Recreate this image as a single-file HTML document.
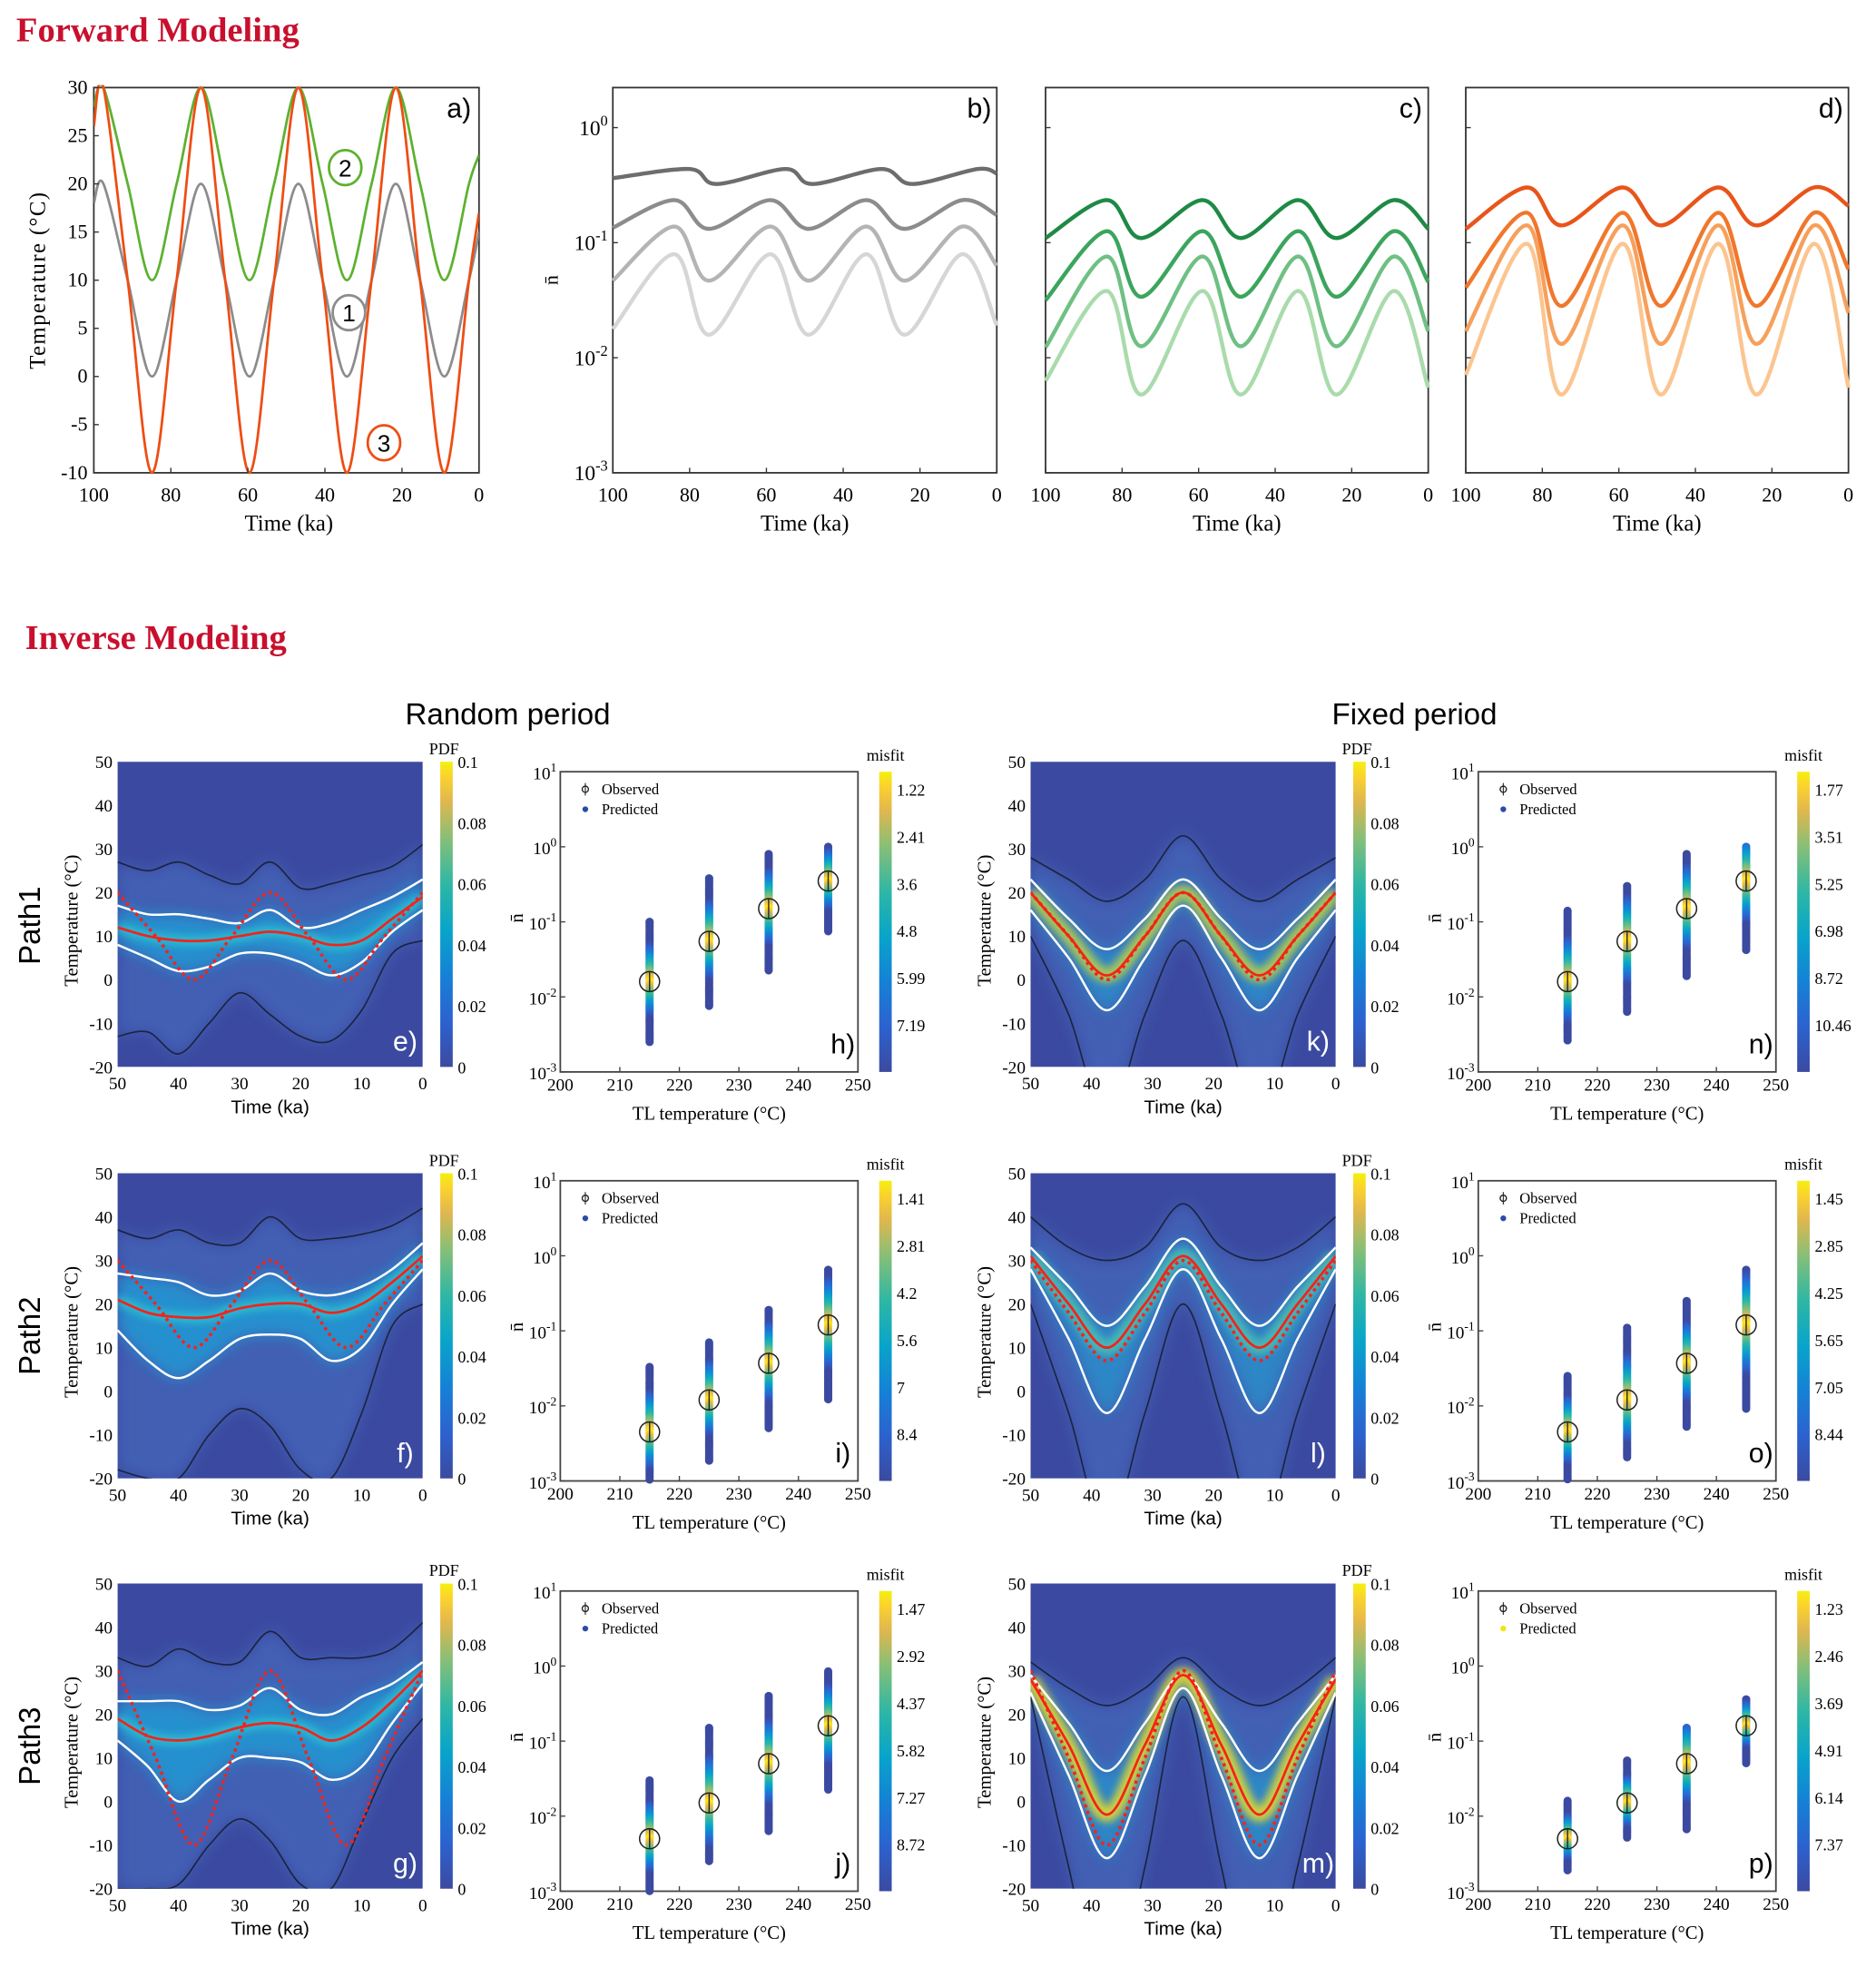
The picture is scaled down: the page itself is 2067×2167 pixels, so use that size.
<!DOCTYPE html>
<html><head><meta charset="utf-8">
<style>
html,body{margin:0;padding:0;background:#fff;}
svg{display:block;}
text{font-family:"Liberation Serif",serif;}
.sans{font-family:"Liberation Sans",sans-serif;}
</style></head>
<body>
<svg id="fig" xmlns="http://www.w3.org/2000/svg" width="2067" height="2167" viewBox="0 0 1500 1572.6">
<defs>
<linearGradient id="parulaV" x1="0" y1="1" x2="0" y2="0">
<stop offset="0" stop-color="#3b4aa0"/><stop offset="0.15" stop-color="#2c62cf"/><stop offset="0.3" stop-color="#1581d6"/><stop offset="0.45" stop-color="#08a4ca"/><stop offset="0.6" stop-color="#2eb7a4"/><stop offset="0.75" stop-color="#87bf77"/><stop offset="0.87" stop-color="#e0b74e"/><stop offset="0.95" stop-color="#fbd12f"/><stop offset="1" stop-color="#f4f00f"/>
</linearGradient>
<filter id="blur6" x="-20%" y="-20%" width="140%" height="140%"><feGaussianBlur stdDeviation="6"/></filter>
<filter id="blur3" x="-20%" y="-20%" width="140%" height="140%"><feGaussianBlur stdDeviation="3"/></filter>
</defs>
</svg>
<script>
// ---------- Forward modeling data ----------
const tA=[100,97.5,91.2,84.9,78.5,72.2,65.9,59.6,53.2,46.9,40.6,34.3,27.9,21.6,15.3,9,2.6,0];
const a1=[18,20,10,0,10,20,10,0,10,20,10,0,10,20,10,0,10,15];
const a2=[28,30,20,10,20,30,20,10,20,30,20,10,20,30,20,10,20,23];
const a3=[26,30,10,-10,10,30,10,-10,10,30,10,-10,10,30,10,-10,10,17];
const tN=[100,84,75,59,49,34,24,9,0];
const tNb=[100,80,73,55,48,30,22,5,0];
const b1=[-0.44,-0.36,-0.49,-0.36,-0.49,-0.36,-0.49,-0.36,-0.4];
const b2=[-0.87,-0.63,-0.88,-0.63,-0.88,-0.63,-0.88,-0.63,-0.76];
const b3=[-1.33,-0.86,-1.33,-0.86,-1.33,-0.86,-1.33,-0.86,-1.2];
const b4=[-1.75,-1.1,-1.8,-1.1,-1.8,-1.1,-1.8,-1.1,-1.72];
const c1=[-0.96,-0.63,-0.96,-0.63,-0.96,-0.63,-0.96,-0.63,-0.88];
const c2=[-1.5,-0.9,-1.47,-0.9,-1.47,-0.9,-1.47,-0.9,-1.34];
const c3=[-1.91,-1.12,-1.9,-1.12,-1.9,-1.12,-1.9,-1.12,-1.77];
const c4=[-2.2,-1.42,-2.32,-1.42,-2.32,-1.42,-2.32,-1.42,-2.26];
const d1=[-0.88,-0.52,-0.85,-0.52,-0.85,-0.52,-0.85,-0.52,-0.68];
const d2=[-1.39,-0.74,-1.55,-0.74,-1.55,-0.74,-1.55,-0.74,-1.23];
const d3=[-1.77,-0.85,-1.88,-0.85,-1.88,-0.85,-1.88,-0.85,-1.61];
const d4=[-2.15,-1.01,-2.32,-1.01,-2.32,-1.01,-2.32,-1.01,-2.26];
const xTicksA=[100,80,60,40,20,0];
const yTicksA=[30,25,20,15,10,5,0,-5,-10];
const logTicks=[0,-1,-2,-3];

// ---------- Inverse modeling data ----------
const tRand=[50,45,40,35,30,25,20,15,10,5,0];
const tFix=[50,43.75,37.5,31.25,25,18.75,12.5,6.25,0];
const e_bu=[27,25,27,24,22,27,21,22,24,26,31];
const e_wu=[17,15,15,14,13,16,12,13,16,19,23];
const e_md=[12,10,9,9,10,11,10,8,9,14,19];
const e_wl=[8,5,2,3,6,6,4,1,4,11,16];
const e_bl=[-13,-12,-17,-10,-3,-8,-13,-14,-7,6,9];
const e_tr=[20,10,0,10,20,10,0,10,20];
const f_bu=[37,35,37,34,34,40,35,35,36,38,42];
const f_wu=[27,26,25,22,23,27,23,22,24,28,34];
const f_md=[21,18,17,17,19,20,20,18,20,25,31];
const f_wl=[14,7,3,7,12,13,12,7,10,20,28];
const f_bl=[-18,-20,-20,-10,-4,-8,-18,-20,-5,15,20];
const f_tr=[30,20,10,20,30,20,10,20,30];
const g_bu=[33,31,35,32,32,39,33,33,33,35,41];
const g_wu=[23,23,23,21,22,26,21,20,24,27,32];
const g_md=[19,15,14,15,17,18,17,14,17,23,30];
const g_wl=[14,8,0,5,10,10,9,5,8,18,27];
const g_bl=[-20,-20,-19,-10,-4,-9,-19,-20,-5,10,19];
const g_tr=[30,10,-10,10,30,10,-10,10,30];
const k_bu=[28,23,18,23,33,23,18,23,28];
const k_wu=[23,14,7,14,23,14,7,14,23];
const k_md=[20,10,1,10,20,10,1,10,20];
const k_wl=[16,5,-7,5,17,5,-7,5,16];
const k_bl=[10,-8,-32,-8,9,-8,-32,-8,10];
const k_tr=[20,10,0,10,20,10,0,10,20];
const l_bu=[40,33,30,33,43,33,30,33,40];
const l_wu=[33,24,15,24,35,24,15,24,33];
const l_md=[31,20,10,20,31,20,10,20,31];
const l_wl=[28,12,-5,12,28,12,-5,12,28];
const l_bl=[20,-5,-32,-5,20,-5,-32,-5,20];
const l_tr=[30,18,7,18,30,18,7,18,30];
const m_bu=[32,26,22,26,33,26,22,26,33];
const m_wu=[29,18,7,18,29,18,7,18,29];
const m_md=[28,13,-3,13,29,13,-3,13,28];
const m_wl=[25,6,-13,6,26,6,-13,6,25];
const m_bl=[24,-15,-50,-15,24,-15,-50,-15,24];
const m_tr=[30,10,-10,10,30,10,-10,10,30];

const tlTemps=[215,225,235,245];
const h_obs=[0.016,0.055,0.15,0.35], h_lo=[0.0025,0.0075,0.022,0.075], h_hi=[0.1,0.38,0.8,1.0];
const i_obs=[0.0045,0.012,0.037,0.12], i_lo=[0.001,0.0018,0.005,0.012], i_hi=[0.033,0.07,0.19,0.65];
const j_obs=[0.005,0.015,0.05,0.16], j_lo=[0.001,0.0025,0.006,0.022], j_hi=[0.03,0.15,0.4,0.85];
const n_obs=[0.016,0.055,0.15,0.35], n_lo=[0.0025,0.006,0.018,0.04], n_hi=[0.14,0.3,0.8,1.0];
const o_obs=[0.0045,0.012,0.037,0.12], o_lo=[0.001,0.002,0.005,0.009], o_hi=[0.025,0.11,0.25,0.65];
const p_obs=[0.005,0.015,0.05,0.16], p_lo=[0.0018,0.005,0.0065,0.05], p_hi=[0.016,0.055,0.15,0.36];
const h_cb=["1.22","2.41","3.6","4.8","5.99","7.19"];
const i_cb=["1.41","2.81","4.2","5.6","7","8.4"];
const j_cb=["1.47","2.92","4.37","5.82","7.27","8.72"];
const n_cb=["1.77","3.51","5.25","6.98","8.72","10.46"];
const o_cb=["1.45","2.85","4.25","5.65","7.05","8.44"];
const p_cb=["1.23","2.46","3.69","4.91","6.14","7.37"];
const pdfTicks=["0.1","0.08","0.06","0.04","0.02","0"];
const heatXTicks=[50,40,30,20,10,0];
const heatYTicks=[50,40,30,20,10,0,-10,-20];
const tlTicks=[200,210,220,230,240,250];

// ---------- helpers ----------
const NS="http://www.w3.org/2000/svg";
const svg=document.getElementById('fig');
function P(name,tag,attrs,parent){
  const el=document.createElementNS(NS,tag);
  for(const k in attrs) el.setAttribute(k,attrs[k]);
  
  
  (parent||svg).appendChild(el);
  return el;
}
function T(name,x,y,s,size,extra,parent){
  const a=Object.assign({x:x,y:y,'font-size':size},extra||{});
  const el=P(name,'text',a,parent);
  el.textContent=s;
  return el;
}
function pow10(name,x,y,e,size,anchor){
  const el=P(name,'text',{x:x,y:y,'font-size':size,'text-anchor':anchor||'end'});
  el.textContent='10';
  const ts=document.createElementNS(NS,'tspan');
  ts.setAttribute('dy',-size*0.45);ts.setAttribute('font-size',size*0.7);
  ts.textContent=String(e);
  el.appendChild(ts);
  return el;
}
function smooth(pts){
  let d='M'+pts[0][0].toFixed(2)+','+pts[0][1].toFixed(2);
  for(let i=0;i<pts.length-1;i++){
    const p0=pts[i-1]||pts[i],p1=pts[i],p2=pts[i+1],p3=pts[i+2]||pts[i+1];
    const c1x=p1[0]+(p2[0]-p0[0])/6,c1y=p1[1]+(p2[1]-p0[1])/6;
    const c2x=p2[0]-(p3[0]-p1[0])/6,c2y=p2[1]-(p3[1]-p1[1])/6;
    d+=' C'+c1x.toFixed(2)+','+c1y.toFixed(2)+' '+c2x.toFixed(2)+','+c2y.toFixed(2)+' '+p2[0].toFixed(2)+','+p2[1].toFixed(2);
  }
  return d;
}
function pts(ts,vs,sx,sy){return ts.map((t,i)=>[sx(t),sy(vs[i])]);}
const PAR=[[0,[59,74,160]],[0.15,[44,98,207]],[0.3,[21,129,214]],[0.45,[8,164,202]],[0.6,[46,183,164]],[0.75,[135,191,119]],[0.87,[224,183,78]],[0.95,[251,209,47]],[1,[244,240,15]]];
function parula(v){
  v=Math.max(0,Math.min(1,v));
  for(let i=0;i<PAR.length-1;i++){
    const [a,ca]=PAR[i],[b,cb]=PAR[i+1];
    if(v<=b){const f=(v-a)/(b-a);return 'rgb('+ca.map((c,j)=>Math.round(c+(cb[j]-c)*f)).join(',')+')';}
  }
  return 'rgb(244,240,15)';
}

// ---------- titles ----------
T('forward-modeling-title',13,33,'Forward Modeling',28,{fill:'#c8102e','font-weight':'bold'});
T('inverse-modeling-title',20,519,'Inverse Modeling',28,{fill:'#c8102e','font-weight':'bold'});
T('random-period-title',406,579,'Random period',24,{'text-anchor':'middle',class:'sans'});
T('fixed-period-title',1131,579,'Fixed period',24,{'text-anchor':'middle',class:'sans'});

// ---------- Panel a ----------
(function(){
  const L=75,R=383,Tp=70,B=378;
  const sx=t=>L+(100-t)/100*(R-L), sy=v=>B-(v+10)/40*(B-Tp);
  const g=P('panel-a','g',{});
  P('panel-a-frame','rect',{x:L,y:Tp,width:R-L,height:B-Tp,fill:'#fff',stroke:'#333','stroke-width':1.3},g);
  const cp=P('panel-a-clip','clipPath',{id:'clipA'},g);
  P('panel-a-clip-rect','rect',{x:L,y:Tp-2,width:R-L,height:B-Tp+4},cp);
  P('curve-1-gray','path',{d:smooth(pts(tA,a1,sx,sy)),fill:'none',stroke:'#8c8c8c','stroke-width':2,'clip-path':'url(#clipA)'},g);
  P('curve-2-green','path',{d:smooth(pts(tA,a2,sx,sy)),fill:'none',stroke:'#5db12f','stroke-width':2,'clip-path':'url(#clipA)'},g);
  P('curve-3-orange','path',{d:smooth(pts(tA,a3,sx,sy)),fill:'none',stroke:'#ee4d14','stroke-width':2,'clip-path':'url(#clipA)'},g);
  xTicksA.forEach(t=>{T('panel-a-x-tick',sx(t),401,String(t),16,{'text-anchor':'middle'},g);
    P('panel-a-x-tickmark','line',{x1:sx(t),y1:B,x2:sx(t),y2:B-4,stroke:'#333'},g);});
  yTicksA.forEach(v=>{T('panel-a-y-tick',70,sy(v)+5,String(v),16,{'text-anchor':'end'},g);
    P('panel-a-y-tickmark','line',{x1:L,y1:sy(v),x2:L+4,y2:sy(v),stroke:'#333'},g);});
  T('panel-a-x-title',231,424,'Time (ka)',18,{'text-anchor':'middle'},g);
  T('panel-a-y-title',0,0,'Temperature (°C)',18,{'text-anchor':'middle','letter-spacing':'1',transform:'translate(36,224) rotate(-90)'},g);
  T('panel-a-label',367,94,'a)',22,{'text-anchor':'middle',class:'sans'},g);
  [['2',276,134,'#5db12f'],['1',279,250,'#8c8c8c'],['3',307,354,'#ee4d14']].forEach(c=>{
    P('curve-'+c[0]+'-marker-circle','ellipse',{cx:c[1],cy:c[2],rx:13,ry:14,fill:'#fff',stroke:c[3],'stroke-width':2},g);
    T('curve-'+c[0]+'-marker-label',c[1],c[2]+7,c[0],19,{'text-anchor':'middle',class:'sans'},g);
  });
})();

// ---------- Panels b,c,d ----------
function logPanel(id,L,R,series,colors,showY,times){
  const Tp=70,B=378,top=0.348;
  const sx=t=>L+(100-t)/100*(R-L), sy=v=>Tp+(top-v)*92;
  const g=P('panel-'+id,'g',{});
  P('panel-'+id+'-frame','rect',{x:L,y:Tp,width:R-L,height:B-Tp,fill:'#fff',stroke:'#333','stroke-width':1.3},g);
  series.forEach((s,i)=>{
    P('panel-'+id+'-curve-'+(i+1),'path',{d:smooth(pts(times[i],s,sx,sy)),fill:'none',stroke:colors[i],'stroke-width':3.2},g);
  });
  xTicksA.forEach(t=>{T('panel-'+id+'-x-tick',sx(t),401,String(t),16,{'text-anchor':'middle'},g);
    P('panel-'+id+'-x-tickmark','line',{x1:sx(t),y1:B,x2:sx(t),y2:B-4,stroke:'#333'},g);});
  logTicks.forEach(e=>{P('panel-'+id+'-y-tickmark','line',{x1:L,y1:sy(e),x2:L+4,y2:sy(e),stroke:'#333'},g);
    if(showY) pow10('panel-'+id+'-y-tick',L-4,sy(e)+6,e,17);});
  T('panel-'+id+'-x-title',(L+R)/2,424,'Time (ka)',18,{'text-anchor':'middle'},g);
  T('panel-'+id+'-label',R-14,94,id+')',22,{'text-anchor':'middle',class:'sans'},g);
  if(showY) T('panel-'+id+'-y-title',0,0,'n\u0304',16,{'text-anchor':'middle',transform:'translate(446,224) rotate(-90)'},g);
}
logPanel('b',490,797,[b1,b2,b3,b4],['#6d6d6d','#8c8c8c','#b4b4b4','#d6d6d6'],true,[tNb,tN,tN,tN]);
logPanel('c',836,1142,[c1,c2,c3,c4],['#1e8a45','#3ca55d','#6fc083','#a9dbab'],false,[tN,tN,tN,tN]);
logPanel('d',1172,1478,[d1,d2,d3,d4],['#e8551a','#f0772c','#f6a05c','#fcc590'],false,[tN,tN,tN,tN]);

// ---------- Heatmaps ----------
let clipN=0;
function heat(id,L,Tp,times,bu,wu,md,wl,bl,tr,fixed,coreColor){
  const W=244,H=244,R=L+W,B=Tp+H;
  const sx=t=>L+(50-t)/50*W, sy=v=>Tp+(50-v)/70*H;
  const g=P('panel-'+id,'g',{});
  const cid='clipH'+(clipN++);
  const cp=P('panel-'+id+'-clip','clipPath',{id:cid},g);
  P('panel-'+id+'-clip-rect','rect',{x:L,y:Tp,width:W,height:H},cp);
  const gi=P('panel-'+id+'-plot','g',{'clip-path':'url(#'+cid+')'},g);
  P('panel-'+id+'-background','rect',{x:L,y:Tp,width:W,height:H,fill:'#3b4aa0'},gi);
  const pu=pts(times,bu,sx,sy),pl=pts(times,bl,sx,sy);
  const outer=smooth(pu)+' L'+smooth(pl.slice().reverse()).slice(1)+' Z';
  P('panel-'+id+'-pdf-outer','path',{d:outer,fill:'#4a72c4',opacity:0.55,filter:'url(#blur6)'},gi);
  const wu2=pts(times,wu,sx,sy),wl2=pts(times,wl,sx,sy);
  const inner=smooth(wu2)+' L'+smooth(wl2.slice().reverse()).slice(1)+' Z';
  P('panel-'+id+'-pdf-inner','path',{d:inner,fill:fixed?'#1da6d6':'#1fa0d8',opacity:fixed?0.55:0.75,filter:'url(#blur6)'},gi);
  P('panel-'+id+'-pdf-core','path',{d:smooth(pts(times,md,sx,sy)),fill:'none',stroke:coreColor,'stroke-width':fixed?12:8,opacity:0.8,filter:'url(#blur3)'},gi);
  P('panel-'+id+'-upper-95','path',{d:smooth(pu),fill:'none',stroke:'#1b2440','stroke-width':1.2},gi);
  P('panel-'+id+'-lower-95','path',{d:smooth(pl),fill:'none',stroke:'#1b2440','stroke-width':1.2},gi);
  P('panel-'+id+'-upper-68','path',{d:smooth(wu2),fill:'none',stroke:'#fff','stroke-width':1.8},gi);
  P('panel-'+id+'-lower-68','path',{d:smooth(wl2),fill:'none',stroke:'#fff','stroke-width':1.8},gi);
  P('panel-'+id+'-median','path',{d:smooth(pts(times,md,sx,sy)),fill:'none',stroke:'#f2231c','stroke-width':2},gi);
  P('panel-'+id+'-true-path','path',{d:smooth(pts(tFix,tr,sx,sy)),fill:'none',stroke:'#f2231c','stroke-width':2.6,'stroke-dasharray':'2.5 3'},gi);
  heatXTicks.forEach(t=>T('panel-'+id+'-x-tick',sx(t),B+18,String(t),14,{'text-anchor':'middle'},g));
  heatYTicks.forEach(v=>T('panel-'+id+'-y-tick',L-4,sy(v)+5,String(v),14,{'text-anchor':'end'},g));
  T('panel-'+id+'-x-title',(L+R)/2,B+37,'Time (ka)',15,{'text-anchor':'middle',class:'sans'},g);
  T('panel-'+id+'-y-title',0,0,'Temperature (°C)',15,{'text-anchor':'middle',transform:'translate('+(L-32)+','+(Tp+H/2+5)+') rotate(-90)'},g);
  T('panel-'+id+'-label',R-14,B-13,id+')',22,{'text-anchor':'middle',class:'sans',fill:'#fff'},g);
  const cx=L+W+14;
  P('panel-'+id+'-colorbar','rect',{x:cx,y:Tp,width:10,height:H,fill:'url(#parulaV)'},g);
  T('panel-'+id+'-colorbar-title',cx+3,Tp-6,'PDF',13,{'text-anchor':'middle'},g);
  pdfTicks.forEach((s,i)=>T('panel-'+id+'-colorbar-tick',cx+14,Tp+5+i*H/5,s,13,{},g));
}
heat('e',94,609,tRand,e_bu,e_wu,e_md,e_wl,e_bl,e_tr,false,'#2fc7d0');
heat('f',94,938,tRand,f_bu,f_wu,f_md,f_wl,f_bl,f_tr,false,'#2fc7d0');
heat('g',94,1266,tRand,g_bu,g_wu,g_md,g_wl,g_bl,g_tr,false,'#2fc7d0');
heat('k',824,609,tFix,k_bu,k_wu,k_md,k_wl,k_bl,k_tr,true,'#c8d63a');
heat('l',824,938,tFix,l_bu,l_wu,l_md,l_wl,l_bl,l_tr,true,'#4fc5b0');
heat('m',824,1266,tFix,m_bu,m_wu,m_md,m_wl,m_bl,m_tr,true,'#f7e21a');
[['path1-label',740,'Path1'],['path2-label',1068,'Path2'],['path3-label',1396,'Path3']].forEach(p=>{
  T(p[0],0,0,p[2],24,{'text-anchor':'middle',class:'sans',transform:'translate(32,'+p[1]+') rotate(-90)'});
});

// ---------- Scatter panels ----------
function scatter(id,L,Tp,obs,lo,hi,cb,predYellow){
  const W=238,H=240,R=L+W,B=Tp+H;
  const sx=t=>L+(t-200)/50*W, sy=v=>Tp+(1-Math.log10(v))/4*H;
  const g=P('panel-'+id,'g',{});
  P('panel-'+id+'-frame','rect',{x:L,y:Tp,width:W,height:H,fill:'#fff',stroke:'#444','stroke-width':1.3},g);
  tlTemps.forEach((t,i)=>{
    const lo_l=Math.log10(lo[i]),hi_l=Math.log10(hi[i]),ob=Math.log10(obs[i]);
    const dmax=Math.max(hi_l-ob,ob-lo_l);
    const y0=sy(hi[i]),y1=sy(lo[i]);
    for(let y=y0;y<=y1+0.01;y+=1.5){
      const lv=1-(y-Tp)/H*4;
      const d=Math.abs(lv-ob)/dmax;
      P('panel-'+id+'-predicted-point','circle',{cx:sx(t),cy:y,r:3.3,fill:parula(1-1.6*d)},g);
    }
  });
  tlTemps.forEach((t,i)=>{
    const cy=sy(obs[i]);
    P('panel-'+id+'-observed-errorbar','line',{x1:sx(t),y1:cy-8,x2:sx(t),y2:cy+8,stroke:'#222','stroke-width':1},g);
    P('panel-'+id+'-observed-point','circle',{cx:sx(t),cy:cy,r:8,fill:'none',stroke:'#222','stroke-width':1.1},g);
  });
  tlTicks.forEach(t=>{T('panel-'+id+'-x-tick',sx(t),B+15,String(t),14,{'text-anchor':'middle'},g);
    P('panel-'+id+'-x-tickmark','line',{x1:sx(t),y1:B,x2:sx(t),y2:B-4,stroke:'#444'},g);});
  [1,0,-1,-2,-3].forEach(e=>{pow10('panel-'+id+'-y-tick',L-3,sy(Math.pow(10,e))+6,e,14);
    P('panel-'+id+'-y-tickmark','line',{x1:L,y1:sy(Math.pow(10,e)),x2:L+4,y2:sy(Math.pow(10,e)),stroke:'#444'},g);});
  T('panel-'+id+'-x-title',(L+R)/2,B+38,'TL temperature (°C)',15,{'text-anchor':'middle'},g);
  T('panel-'+id+'-y-title',0,0,'n\u0304',15,{'text-anchor':'middle',transform:'translate('+(L-30)+','+(Tp+H/2-3)+') rotate(-90)'},g);
  T('panel-'+id+'-label',R-12,B-15,id+')',22,{'text-anchor':'middle',class:'sans'},g);
  P('panel-'+id+'-legend-observed-marker','circle',{cx:L+20,cy:Tp+14,r:2.5,fill:'none',stroke:'#222'},g);
  P('panel-'+id+'-legend-observed-bar','line',{x1:L+20,y1:Tp+9,x2:L+20,y2:Tp+19,stroke:'#222','stroke-width':0.8},g);
  T('panel-'+id+'-legend-observed',L+33,Tp+18,'Observed',12,{},g);
  P('panel-'+id+'-legend-predicted-marker','circle',{cx:L+20,cy:Tp+30,r:2.3,fill:predYellow?'#f4e30f':'#2c4aa8'},g);
  T('panel-'+id+'-legend-predicted',L+33,Tp+34,'Predicted',12,{},g);
  const cx=R+17;
  P('panel-'+id+'-colorbar','rect',{x:cx,y:Tp,width:10,height:H,fill:'url(#parulaV)'},g);
  T('panel-'+id+'-colorbar-title',cx+5,Tp-9,'misfit',13,{'text-anchor':'middle'},g);
  cb.forEach((s,i)=>T('panel-'+id+'-colorbar-tick',cx+14,Tp+19+i*37.7,s,13,{},g));
}
scatter('h',448,617,h_obs,h_lo,h_hi,h_cb,false);
scatter('i',448,944,i_obs,i_lo,i_hi,i_cb,false);
scatter('j',448,1272,j_obs,j_lo,j_hi,j_cb,false);
scatter('n',1182,617,n_obs,n_lo,n_hi,n_cb,false);
scatter('o',1182,944,o_obs,o_lo,o_hi,o_cb,false);
scatter('p',1182,1272,p_obs,p_lo,p_hi,p_cb,true);
</script>
</body></html>
